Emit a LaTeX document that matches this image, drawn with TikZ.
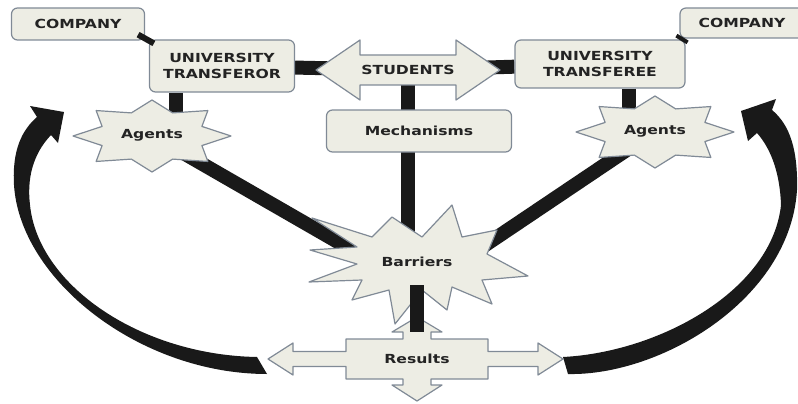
\documentclass[tikz,border=0pt]{standalone}
\usepackage{fontspec}
\newfontfamily\labfont[FakeStretch=1.25]{DejaVu Sans}

\definecolor{boxfill}{RGB}{237,237,228}
\definecolor{boxline}{RGB}{128,138,150}
\definecolor{ink}{RGB}{35,35,35}

\pgfdeclarelayer{bars}
\pgfdeclarelayer{shapes}
\pgfsetlayers{bars,shapes,main}

\tikzset{
  lab/.style={font=\labfont\bfseries\fontsize{12.5}{16}\selectfont,text=ink,align=center,inner sep=0pt},
  box/.style={lab,draw=boxline,fill=boxfill,line width=1.2pt,rounded corners=6pt},
  shp/.style={draw=boxline,fill=boxfill,line width=1.2pt,line join=round},
  bar/.style={draw=black!90,line width=14pt},
  curl/.style={fill=black!90},
}

\begin{document}
\begin{tikzpicture}[x=1pt,y=-1pt]
\useasboundingbox (0,0) rectangle (798,404);

% boxes
\node[box,minimum width=133pt,minimum height=32pt] (compL) at (78,24) {COMPANY};
\node[box,minimum width=124pt,minimum height=30pt] (compR) at (742,23) {COMPANY};
\node[box,minimum width=145pt,minimum height=52pt] (univL) at (222,66) {UNIVERSITY\\TRANSFEROR};
\node[box,minimum width=170pt,minimum height=48pt] (univR) at (600,64) {UNIVERSITY\\TRANSFEREE};
\node[box,minimum width=185pt,minimum height=42pt] (mech) at (419,131) {Mechanisms};

% company links sit on the box corners
\draw[bar,line width=6pt] ([shift={(-7,-6)}]compL.south east) -- ([shift={(5,4)}]univL.north west);
\draw[bar,line width=4pt] ([shift={(-3,-3)}]compR.south west) -- ([shift={(2,3)}]univR.north east);

% labels of the drawn shapes
\node[lab] (stud) at (408,70) {STUDENTS};
\node[lab] (agL) at (152,135) {Agents};
\node[lab] (agR) at (655,131) {Agents};
\node[lab] (barr) at (417,262) {Barriers};
\node[lab] (res) at (417,359) {Results};

\begin{pgfonlayer}{bars}
\draw[bar] (univL) -- (stud);
\draw[bar] (stud) -- (univR);
\draw[bar] (stud.center) -- (stud |- barr.center);
\draw[bar] ([xshift=-7pt]univL.south -| agL.north east) -- ([xshift=-7pt]agL.north east);
\draw[bar] ([xshift=5pt]univR.south -| agR.north west) -- ([xshift=5pt]agR.north west);
\draw[bar] (agL) -- (barr.south west);
\draw[bar] (agR) -- (barr.south east);
\end{pgfonlayer}

\begin{pgfonlayer}{shapes}
\draw[shp,shift={(stud.center)}] (-92,0) -- (-48,-30) -- (-48,-15) -- (48,-15) -- (48,-30)
  -- (92,0) -- (48,30) -- (48,15) -- (-48,15) -- (-48,30) -- cycle;
\foreach \s/\c in {agL/{(152,136)},agR/{(655,132)}}
  \draw[shp,shift={\c}] (0,36)
    foreach \k [evaluate=\k as \ra using {79-25*mod(\k,2)},
                evaluate=\k as \rb using {36-11*mod(\k,2)}] in {1,...,15}
      { -- ({\ra*cos(90+\k*22.5)},{\rb*sin(90+\k*22.5)}) } -- cycle;
\draw[shp,shift={(res.center)}] (-149,0) -- (-124,-16) -- (-124,-7.5) -- (-71,-7.5) -- (-71,-20)
  -- (-14,-20) -- (-14,-27) -- (-25,-27) -- (0,-42) -- (25,-27) -- (14,-27) -- (14,-20)
  -- (71,-20) -- (71,-7.5) -- (121,-7.5) -- (121,-16) -- (146,0) -- (121,16) -- (121,7.5)
  -- (71,7.5) -- (71,20) -- (14,20) -- (14,26) -- (25,26) -- (0,42) -- (-25,26) -- (-14,26)
  -- (-14,20) -- (-71,20) -- (-71,7.5) -- (-124,7.5) -- (-124,16) -- cycle;
\draw[shp,shift={(barr.center)}] (-105,-44) -- (-45,-25) -- (-25,-45) -- (5,-25) -- (35,-57)
  -- (45,-25) -- (80,-32) -- (70,-8) -- (111,14) -- (65,18) -- (75,42) -- (35,25) -- (30,48)
  -- (5,28) -- (-22,62) -- (-28,28) -- (-65,38) -- (-55,18) -- (-108,20) -- (-60,2)
  -- (-107,-12) -- (-60,-15) -- cycle;
\draw[bar,shorten <=18pt,shorten >=22pt] (barr.south) -- (res.north);
% curved arrows
\fill[curl] (267,374) .. controls (140,374) and (20,280) .. (14,185)
  .. controls (12,150) and (22,130) .. (37,117) -- (30,106) -- (64,112) -- (58,143) -- (51,135)
  .. controls (32,155) and (27,180) .. (30,205) .. controls (38,285) and (140,355) .. (257,357) -- cycle;
\fill[curl] (568,374) .. controls (660,376) and (790,300) .. (797,190)
  .. controls (798,150) and (790,125) .. (772,110) -- (776,99) -- (741,111) -- (748,141) -- (757,133)
  .. controls (772,150) and (780,175) .. (781,205) .. controls (772,290) and (660,352) .. (563,357) -- cycle;
\end{pgfonlayer}

\end{tikzpicture}
\end{document}
